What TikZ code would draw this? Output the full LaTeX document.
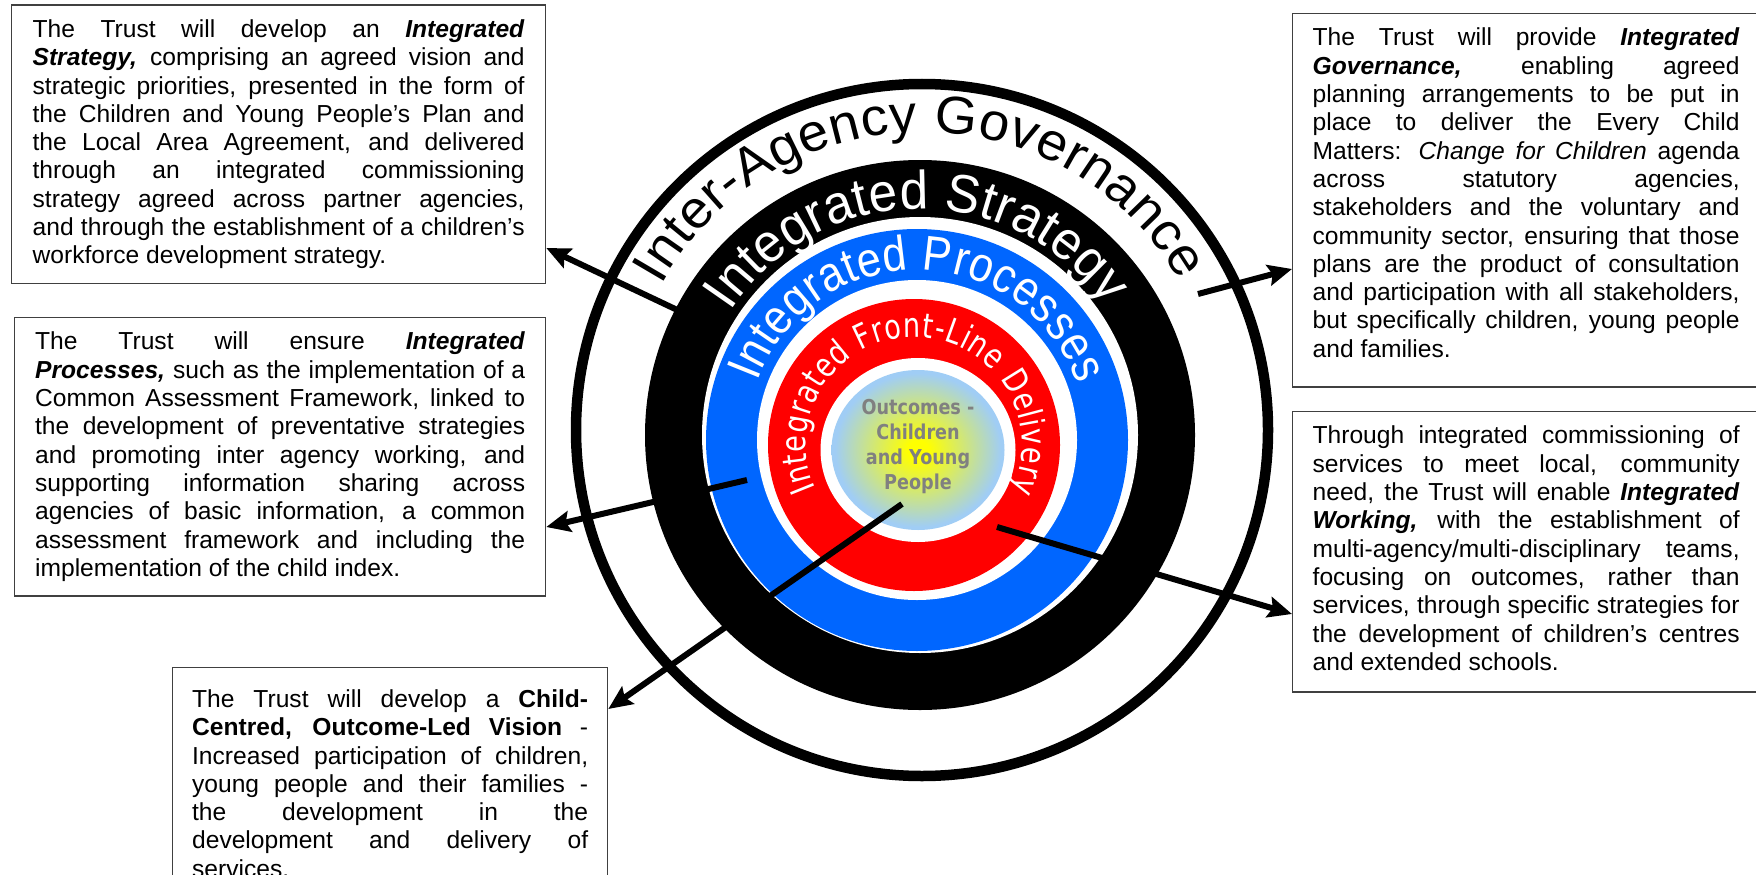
\documentclass[tikz,border=0pt]{standalone}
\usepackage{fontspec}
\setmainfont{Liberation Sans}
\newfontfamily\ringfont{Liberation Sans}[FakeStretch=1.03]
\newfontfamily\stratringfont{Liberation Sans}[FakeStretch=0.95]
\newfontfamily\narrowringfont{Liberation Sans}[FakeStretch=0.88]
\newfontfamily\hubfont{DejaVu Sans}[FakeStretch=0.86]
\newfontfamily\delivfont{DejaVu Sans}[FakeStretch=0.8]
\usetikzlibrary{arrows.meta,decorations.text}

\definecolor{processblue}{RGB}{0,102,255}
\definecolor{deliveryred}{RGB}{255,0,0}
\definecolor{hubblue}{RGB}{160,205,245}
\definecolor{hubyellow}{RGB}{255,255,0}
\definecolor{hubgray}{RGB}{128,128,128}

% glow in the middle of the rings
\pgfdeclareradialshading{hubglow}{\pgfpoint{0bp}{0bp}}{color(0bp)=(hubyellow);
  color(3bp)=(hubyellow); color(24bp)=(hubblue); color(50bp)=(hubblue)}

% paragraph set-up for the text boxes
\newcommand{\boxtext}{\fontsize{24.6}{28.3}\selectfont
  \tolerance=10000 \hbadness=10000
  \hyphenpenalty=10000 \exhyphenpenalty=10000}
% fonts of the ring titles
\newcommand{\govlabel}{\ringfont\fontsize{53}{53}\selectfont}
\newcommand{\stratlabel}{\stratringfont\fontsize{54}{54}\selectfont}
\newcommand{\proclabel}{\narrowringfont\fontsize{49}{49}\selectfont}
\newcommand{\delivlabel}{\delivfont\fontsize{34}{34}\selectfont}

\tikzset{
  infobox/.style={draw=black!75, line width=1.3pt, fill=white,
    anchor=north west, align=justify, inner ysep=14.5pt, font=\boxtext},
  pointer/.style={line width=6pt, -{Stealth[length=24pt,width=21pt,inset=4pt]}},
  ringlabel/.style={decorate, decoration={text along path,
    text align=fit to path, text color=#1}},
  ringlabel/.default=black
}

\begin{document}
\begin{tikzpicture}[x=1pt,y=1pt]
  \useasboundingbox (0,0) rectangle (1756,-875);
  \clip (0,0) rectangle (1756,-875);
  % centres of the rings
  \coordinate (cgov) at (922,-430);
  \coordinate (cstrat) at (920,-435);
  \coordinate (cproc) at (917,-440);
  \coordinate (cdeliv) at (914,-445);
  \coordinate (chub) at (918,-450);
  % inter-agency governance
  \draw[line width=10.5pt] (cgov) circle[radius=346pt];
  % integrated strategy
  \fill (cstrat) circle[radius=275pt];
  \fill[white] (cstrat) circle[radius=218pt];
  % integrated processes
  \fill[processblue] (cproc) circle[radius=211pt];
  \fill[white] (cproc) circle[radius=160pt];
  % integrated front-line delivery
  \fill[deliveryred] (cdeliv) circle[radius=146pt];
  \fill[white] (chub) ellipse[x radius=97.5pt, y radius=92pt];
  % outcomes in the middle
  \shade[shading=hubglow] (chub) ellipse[x radius=86.5pt, y radius=80pt];
  \node[font=\hubfont\bfseries\fontsize{20.5}{25}\selectfont, text=hubgray,
    align=center, anchor=base] (hub) at (918,-489) {Outcomes -\\Children\\and Young\\People};

  % ring titles
  \path[ringlabel, decoration={text={|\govlabel|Inter-Agency Governance}}]
    ([shift={(151:298)}]cgov) arc[start angle=151, end angle=30, radius=298pt];
  \path[ringlabel=white, decoration={text={|\stratlabel|Integrated Strategy}}]
    ([shift={(147:226)}]cstrat) arc[start angle=147, end angle=35, radius=226pt];
  \path[ringlabel=white, decoration={text={|\proclabel|Integrated Processes}}]
    ([shift={(160:170)}]cproc) arc[start angle=160, end angle=19, radius=170pt];
  \path[ringlabel=white, decoration={text={|\delivlabel|Integrated Front-Line Delivery}}]
    ([shift={(204:108)}]cdeliv) arc[start angle=204, end angle=-25, radius=108pt];

  % text boxes
  \node[infobox, inner xsep=21pt, text width=492pt] (strategy) at (11,-4.5) {%
    The Trust will develop an \textbf{\textit{Integrated}}\linebreak
    \textbf{\textit{Strategy,}} comprising an agreed vision and\linebreak
    strategic priorities, presented in the form of\linebreak
    the Children and Young People’s Plan and\linebreak
    the Local Area Agreement, and delivered\linebreak
    through an integrated commissioning\linebreak
    strategy agreed across partner agencies,\linebreak
    and through the establishment of a children’s\linebreak
    workforce development strategy.};
  \node[infobox, inner xsep=20pt, text width=427pt, text depth=326.5pt] (governance) at (1292,-13) {%
    The Trust will provide \textbf{\textit{Integrated}}\linebreak
    \textbf{\textit{Governance,}} enabling agreed\linebreak
    planning arrangements to be put in\linebreak
    place to deliver the Every Child\linebreak
    Matters: \textit{Change for Children} agenda\linebreak
    across statutory agencies,\linebreak
    stakeholders and the voluntary and\linebreak
    community sector, ensuring that those\linebreak
    plans are the product of consultation\linebreak
    and participation with all stakeholders,\linebreak
    but specifically children, young people\linebreak
    and families.};
  \node[infobox, inner xsep=20.5pt, text width=490pt] (processes) at (14,-317) {%
    The Trust will ensure \textbf{\textit{Integrated}}\linebreak
    \textbf{\textit{Processes,}} such as the implementation of a\linebreak
    Common Assessment Framework, linked to\linebreak
    the development of preventative strategies\linebreak
    and promoting inter agency working, and\linebreak
    supporting information sharing across\linebreak
    agencies of basic information, a common\linebreak
    assessment framework and including the\linebreak
    implementation of the child index.};
  \node[infobox, inner xsep=20pt, text width=427pt, text depth=233.5pt] (working) at (1292,-411) {%
    Through integrated commissioning of\linebreak
    services to meet local, community\linebreak
    need, the Trust will enable \textbf{\textit{Integrated}}\linebreak
    \textbf{\textit{Working,}} with the establishment of\linebreak
    multi-agency/multi-disciplinary teams,\linebreak
    focusing on outcomes, rather than\linebreak
    services, through specific strategies for\linebreak
    the development of children’s centres\linebreak
    and extended schools.};
  \node[infobox, inner xsep=19.5pt, inner ysep=22pt, text width=396pt] (vision) at (172,-667) {%
    The Trust will develop a \textbf{Child-}\linebreak
    \textbf{Centred, Outcome-Led Vision} -\linebreak
    Increased participation of children,\linebreak
    young people and their families -\linebreak
    the development in the\linebreak
    development and delivery of\linebreak
    services.};

  % arrows out to the boxes
  \coordinate (s1) at (690,-316);
  \coordinate (s2) at (1198,-294);
  \coordinate (s3) at (747,-480);
  \coordinate (s4) at (997,-527);
  \coordinate (s5) at (902,-504);
  \draw[pointer] (s1) -- ([yshift=-243.5pt]strategy.north east);
  \draw[pointer] (s2) -- ([yshift=-256pt]governance.north west);
  \draw[pointer] (s3) -- ([yshift=-210pt]processes.north east);
  \draw[pointer] (s4) -- ([yshift=-203pt]working.north west);
  \draw[pointer] (s5) -- ([yshift=-42pt]vision.north east);
\end{tikzpicture}
\end{document}
